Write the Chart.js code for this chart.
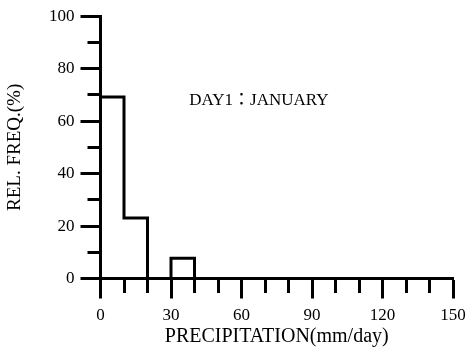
<!DOCTYPE html>
<html>
<head>
<meta charset="utf-8">
<style>
  html, body { margin: 0; padding: 0; background: #fff; }
  #wrap { width: 468px; height: 354px; }
</style>
<script src="https://cdn.jsdelivr.net/npm/chart.js@4/dist/chart.umd.min.js"></script>
</head>
<body>
<div id="wrap"><canvas id="c" width="468" height="354"></canvas></div>
<script>
// Histogram bins (left edges, mm/day) and relative frequency (%) per bin
const binStarts = [0, 10, 20, 30, 40, 50, 60, 70, 80, 90, 100, 110, 120, 130, 140];
const relFreq   = [69.2, 23.1, 0, 7.7, 0, 0, 0, 0, 0, 0, 0, 0, 0, 0, 0];
const binWidth  = 10;

// Labelled ticks on each axis
const xTickLabels = [0, 30, 60, 90, 120, 150];
const yTickLabels = [0, 20, 40, 60, 80, 100];

const caption = 'DAY1：JANUARY';
const xTitle  = 'PRECIPITATION(mm/day)';
const yTitle  = 'REL. FREQ.(%)';

// Step outline: each bin's height held across its width, closed at the last edge
const outline = binStarts.map((x, i) => ({ x: x, y: relFreq[i] }));
outline.push({ x: binStarts[binStarts.length - 1] + binWidth, y: 0 });

const FONT = '"Liberation Serif", "Times New Roman", "Noto Sans CJK JP", serif';
Chart.defaults.font.family = FONT;
Chart.defaults.font.size = 17;
Chart.defaults.color = '#000';

const MAJOR_LEN = 20;
const MINOR_LEN = 13;

// Caption placed in data coordinates inside the plot
const captionPlugin = {
  id: 'caption',
  afterDraw(chart) {
    const { ctx, scales } = chart;
    ctx.save();
    ctx.font = '17px ' + FONT;
    ctx.fillStyle = '#000';
    ctx.textAlign = 'center';
    ctx.textBaseline = 'middle';
    ctx.fillText(caption, scales.x.getPixelForValue(67.4), scales.y.getPixelForValue(67.8));
    ctx.restore();
  }
};

const isLabelled = (list, v) => list.indexOf(v) !== -1;

new Chart(document.getElementById('c'), {
  type: 'line',
  data: {
    datasets: [{
      data: outline,
      stepped: true,
      borderColor: '#000',
      borderWidth: 3,
      pointRadius: 0,
      fill: false,
      clip: 4
    }]
  },
  options: {
    responsive: false,
    devicePixelRatio: 1,
    animation: false,
    layout: { padding: { left: 0, right: 15, top: 13, bottom: 0 } },
    plugins: { legend: { display: false }, tooltip: { enabled: false } },
    scales: {
      x: {
        type: 'linear',
        min: 0,
        max: 150,
        afterFit(scale) {
          scale.height = 75.5;
          scale.paddingLeft = 0;
          scale.paddingRight = 0;
        },
        border: { display: true, color: '#000', width: 3 },
        grid: {
          drawOnChartArea: false,
          drawTicks: true,
          tickLength: MAJOR_LEN,
          tickWidth: 3,
          tickColor: '#000',
          tickBorderDash: (c) => (c.tick && !isLabelled(xTickLabels, c.tick.value)) ? [MINOR_LEN, 100] : []
        },
        ticks: {
          stepSize: 10,
          autoSkip: false,
          maxRotation: 0,
          padding: 7,
          callback: (v) => isLabelled(xTickLabels, v) ? String(v) : ''
        },
        title: { display: true, text: xTitle, padding: { top: 0, bottom: 5 }, font: { size: 20 } }
      },
      y: {
        type: 'linear',
        min: 0,
        max: 100,
        afterFit(scale) { scale.width = 100.5; },
        border: { display: true, color: '#000', width: 3 },
        grid: {
          drawOnChartArea: false,
          drawTicks: true,
          tickLength: MAJOR_LEN,
          tickWidth: 3,
          tickColor: '#000',
          tickBorderDash: (c) => (c.tick && !isLabelled(yTickLabels, c.tick.value)) ? [0, MAJOR_LEN - MINOR_LEN, MINOR_LEN, 100] : []
        },
        ticks: {
          stepSize: 10,
          autoSkip: false,
          padding: 6,
          callback: (v) => isLabelled(yTickLabels, v) ? String(v) : ''
        },
        title: { display: true, text: yTitle, padding: { top: 4, bottom: 0 }, font: { size: 19 } }
      }
    }
  },
  plugins: [captionPlugin]
});
</script>
</body>
</html>
